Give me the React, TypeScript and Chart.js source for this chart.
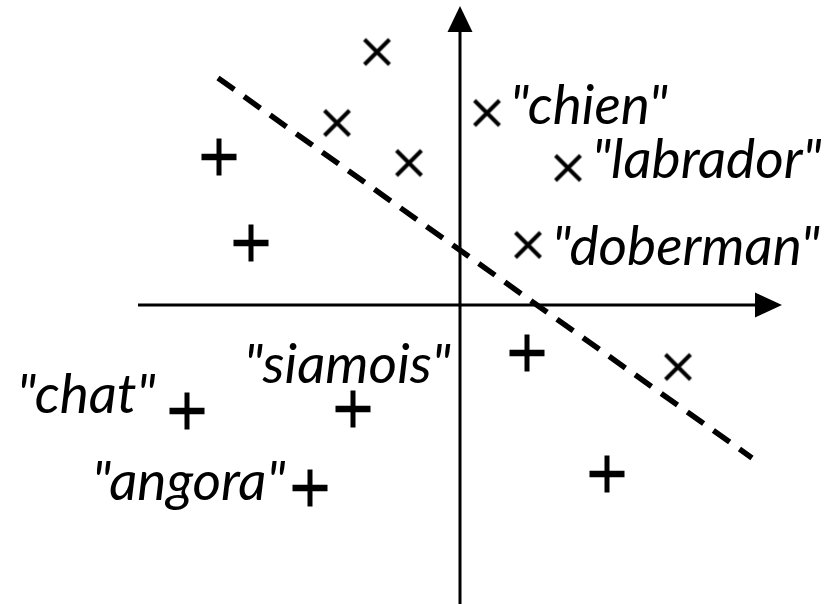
import React, { useEffect, useRef } from "react";
import { Chart, registerables } from "chart.js";

Chart.register(...registerables);

// data coordinates: origin at the crossing of the two axes
const chienPoints = [
  { x: -8.3, y: 25.3 },
  { x: -12.3, y: 18.2 },
  { x: -5.1, y: 14.2 },
  { x: 2.7, y: 19.2 },
  { x: 10.8, y: 13.7 },
  { x: 6.8, y: 6.0 },
  { x: 21.8, y: -6.2 },
];
const chatPoints = [
  { x: -24.1, y: 14.8 },
  { x: -20.9, y: 6.2 },
  { x: -27.3, y: -10.6 },
  { x: -10.7, y: -10.4 },
  { x: -15.0, y: -18.3 },
  { x: 6.7, y: -4.8 },
  { x: 14.7, y: -16.9 },
];
const separatorLine = [
  { x: -24.2, y: 22.7 },
  { x: 29.2, y: -15.3 },
];
const wordLabels = ['"chien"', '"labrador"', '"doberman"', '"chat"', '"siamois"', '"angora"'];
const wordLabelX = [5.0, 13.2, 9.2, -44.3, -21.6, -36.8];
const wordLabelY = [18.1, 12.7, 4.0, -10.8, -7.8, -19.5];

// axis extents
const xAxisFrom = -32.2;
const xAxisTip = 32.2;
const xArrowBase = 29.5;
const yAxisFrom = -29.9;
const yAxisTip = 29.9;
const yArrowBase = 27.3;
const arrowHalf = 1.25;

const X_MIN = -46;
const X_MAX = 37.5;
const Y_MIN = -29.9;
const Y_MAX = 30.5;

function makeMarker(kind: "plus" | "times", half: number, lwA: number, lwB: number) {
  const size = Math.ceil(half * 2 + Math.max(lwA, lwB) + 4);
  const c = document.createElement("canvas");
  c.width = size;
  c.height = size;
  const g = c.getContext("2d")!;
  const m = size / 2;
  g.strokeStyle = "#000";
  g.lineCap = "butt";
  if (kind === "plus") {
    g.lineWidth = lwA;
    g.beginPath();
    g.moveTo(m - half, m);
    g.lineTo(m + half, m);
    g.stroke();
    g.lineWidth = lwB;
    g.beginPath();
    g.moveTo(m, m - half - 1);
    g.lineTo(m, m + half + 1);
    g.stroke();
  } else {
    g.lineWidth = lwA;
    g.beginPath();
    g.moveTo(m - half, m - half);
    g.lineTo(m + half, m + half);
    g.moveTo(m + half, m - half);
    g.lineTo(m - half, m + half);
    g.stroke();
  }
  return c;
}

const axesPlugin = {
  id: "axesArrows",
  beforeDatasetsDraw(chart: any) {
    const ctx = chart.ctx;
    const xs = chart.scales.x;
    const ys = chart.scales.y;
    const px = (v: number) => xs.getPixelForValue(v);
    const py = (v: number) => ys.getPixelForValue(v);
    ctx.save();
    ctx.strokeStyle = "#000";
    ctx.fillStyle = "#000";
    ctx.lineWidth = 3;
    ctx.beginPath();
    ctx.moveTo(px(xAxisFrom), py(0));
    ctx.lineTo(px(xArrowBase), py(0));
    ctx.stroke();
    ctx.beginPath();
    ctx.moveTo(px(xAxisTip), py(0));
    ctx.lineTo(px(xArrowBase), py(arrowHalf));
    ctx.lineTo(px(xArrowBase), py(-arrowHalf));
    ctx.closePath();
    ctx.fill();
    ctx.beginPath();
    ctx.moveTo(px(0), py(yAxisFrom));
    ctx.lineTo(px(0), py(yArrowBase));
    ctx.stroke();
    ctx.beginPath();
    ctx.moveTo(px(0), py(yAxisTip));
    ctx.lineTo(px(-arrowHalf), py(yArrowBase));
    ctx.lineTo(px(arrowHalf), py(yArrowBase));
    ctx.closePath();
    ctx.fill();
    ctx.restore();
  },
  afterDatasetsDraw(chart: any) {
    const ctx = chart.ctx;
    const xs = chart.scales.x;
    const ys = chart.scales.y;
    ctx.save();
    ctx.fillStyle = "#000";
    ctx.font = "italic 55px Lato";
    ctx.textAlign = "left";
    ctx.textBaseline = "alphabetic";
    wordLabels.forEach((t, i) => {
      ctx.fillText(t, xs.getPixelForValue(wordLabelX[i]), ys.getPixelForValue(wordLabelY[i]));
    });
    ctx.restore();
  },
};

export default function App() {
  const ref = useRef<HTMLCanvasElement>(null);
  useEffect(() => {
    if (!ref.current) return;
    const timesImg = makeMarker("times", 12.5, 4, 4);
    const plusImg = makeMarker("plus", 17.5, 6.5, 5);
    const chart = new Chart(ref.current, {
      type: "scatter",
      data: {
        datasets: [
          {
            label: "separator",
            type: "line",
            data: separatorLine,
            borderColor: "#000",
            borderWidth: 5.5,
            borderDash: [20, 12],
            pointRadius: 0,
            fill: false,
          } as any,
          {
            label: "chien",
            data: chienPoints,
            pointStyle: timesImg,
            pointRadius: 17,
          },
          {
            label: "chat",
            data: chatPoints,
            pointStyle: plusImg,
            pointRadius: 17.5,
          },
        ],
      },
      options: {
        animation: false,
        responsive: false,
        layout: { padding: 0, autoPadding: false },
        plugins: { legend: { display: false }, tooltip: { enabled: false } },
        scales: {
          x: { type: "linear", min: X_MIN, max: X_MAX, display: false },
          y: { type: "linear", min: Y_MIN, max: Y_MAX, display: false },
        },
      },
      plugins: [axesPlugin],
    });
    return () => chart.destroy();
  }, []);
  return (
    <div style={{ position: "absolute", left: 0, top: 0, width: 835, height: 604, background: "#fff" }}>
      <canvas ref={ref} width={835} height={604} style={{ display: "block" }} />
    </div>
  );
}
